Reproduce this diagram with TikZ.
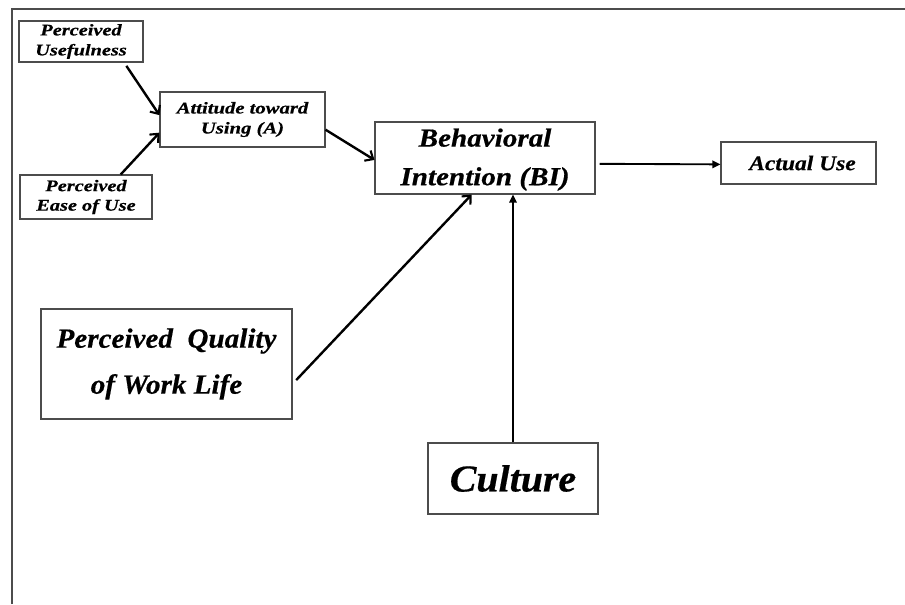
\documentclass[tikz,border=0pt]{standalone}
\usepackage{fontspec}
\setmainfont{Liberation Serif}
\newfontfamily\fa[FakeStretch=1.25,FakeBold=0.5]{Liberation Serif}
\newfontfamily\fb[FakeStretch=1.12,FakeBold=0.5]{Liberation Serif}
\newfontfamily\fc[FakeStretch=1.05,FakeBold=0.5]{Liberation Serif}
\usetikzlibrary{arrows.meta}
\tikzset{
  box/.style={draw=black!70, line width=0.8pt, rectangle, inner sep=0pt, align=center},
  arr/.style={-{Straight Barb[length=5pt,width=9pt,line width=1.6pt]}, line width=1.8pt, black},
  arrf/.style={-{Triangle[length=6pt,width=5.5pt]}, line width=1.4pt, black},
  frame/.style={draw=black!70, line width=1.1pt}
}
\begin{document}
\begin{tikzpicture}[x=0.75pt,y=-0.75pt]
\useasboundingbox (0,0) rectangle (905,604);
\draw[frame] (12,604) -- (12,9) -- (905,9);

\node[box, minimum width=93pt, minimum height=30.75pt, font={\fa\bfseries\itshape\fontsize{12.2}{15}\selectfont}] (PU) at (81,41.5) {Perceived\\Usefulness};
\node[box, minimum width=123.75pt, minimum height=41.25pt, font={\fa\bfseries\itshape\fontsize{12.4}{15}\selectfont}] (ATU) at (242.5,119.5) {Attitude toward\\Using (A)};
\node[box, minimum width=99pt, minimum height=33pt, font={\fa\bfseries\itshape\fontsize{12.2}{14.6}\selectfont}] (PEOU) at (86,197) {Perceived\\Ease of Use};
\node[box, minimum width=165pt, minimum height=54pt, font={\fb\bfseries\itshape\fontsize{19.5}{29}\selectfont}] (BI) at (485,158) {\rule{0pt}{16pt}Behavioral\\Intention (BI)};
\node[box, minimum width=116.25pt, minimum height=31.5pt, font={\fb\bfseries\itshape\fontsize{15.75}{18}\selectfont}] (AU) at (798.5,163) {\hspace*{6pt}Actual Use};
\node[box, minimum width=188.25pt, minimum height=82.5pt, font={\fc\bfseries\itshape\fontsize{20.8}{34.5}\selectfont}] (PQ) at (166.5,364) {Perceived\ \ Quality\\of Work Life};
\node[box, minimum width=127.5pt, minimum height=53.25pt, font={\fc\bfseries\itshape\fontsize{28.5}{32}\selectfont}] (CU) at (513,478.5) {Culture};

\draw[arr, shorten <=3pt] (PU.-26.6) -- (ATU.177);
\draw[arr] (PEOU.33.7) -- (ATU.-171.5);
\draw[arr] (ATU.-7.25) -- (BI.181);
\draw[arrf, shorten <=3pt] (BI.-3.6) -- (AU.181.5);
\draw[arr, shorten <=4pt] (PQ.-9.5) -- (BI.250.1);
\draw[arrf] (CU.north) -- (CU.north |- BI.south);
\end{tikzpicture}
\end{document}
